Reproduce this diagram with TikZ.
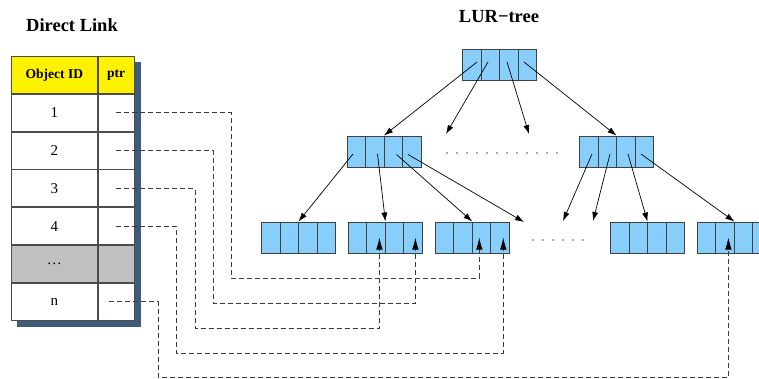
\documentclass[tikz,border=0pt]{standalone}
\usepackage{fontspec}
\setmainfont{Liberation Serif}
\usetikzlibrary{positioning,arrows.meta,backgrounds,calc}
\definecolor{nodeblue}{RGB}{135,206,250}
\definecolor{shadowblue}{RGB}{62,92,120}
\definecolor{tablegray}{RGB}{192,192,192}
\definecolor{linkgray}{RGB}{60,60,60}

\begin{document}
\begin{tikzpicture}[x=1pt, y=-1pt, node distance=0pt,
  title/.style={font=\bfseries\fontsize{18.5}{18.5}\selectfont},
  id cell/.style={draw=black!70, fill=white, line width=0.8pt, minimum width=86pt, minimum height=37pt, inner sep=0pt, font=\fontsize{15}{15}\selectfont},
  ptr cell/.style={id cell, minimum width=36pt},
  head/.style={fill=yellow, font=\bfseries\fontsize{13.5}{13.5}\selectfont},
  tree node/.style={draw=black!75, fill=nodeblue, line width=0.9pt, minimum width=74pt, minimum height=31pt, inner sep=0pt,
    path picture={
      \foreach \f in {0.25,0.5,0.75}
        \draw[black!75, line width=0.9pt] ($(path picture bounding box.north west)!\f!(path picture bounding box.north east)$)
          -- ($(path picture bounding box.south west)!\f!(path picture bounding box.south east)$);}},
  tree edge/.style={-{Latex[length=9pt,width=6pt]}, line width=0.7pt},
  link/.style={dash pattern=on 5pt off 3pt, draw=linkgray, line width=0.8pt, -{Latex[length=12pt,width=6.5pt,color=black]}},
  dots/.style={dash pattern=on 0pt off 10pt, line cap=round, line width=1.6pt, draw=black!65}]
\useasboundingbox (0,0) rectangle (759,378);

% titles
\node[title](directlink) at (72,25){Direct Link};
\node[title](lurtree) at (499,17){LUR−tree};

% direct link table
\node[id cell, head, anchor=north west](id0) at (11,56){Object ID};
\node[ptr cell, head, right=of id0](ptr0){ptr};
\node[id cell, below=of id0](id1){1};
\node[ptr cell, right=of id1](ptr1){};
\node[id cell, below=of id1](id2){2};
\node[ptr cell, right=of id2](ptr2){};
\node[id cell, below=of id2](id3){3};
\node[ptr cell, right=of id3](ptr3){};
\node[id cell, below=of id3](id4){4};
\node[ptr cell, right=of id4](ptr4){};
\node[id cell, fill=tablegray, below=of id4](id5){\ldots};
\node[ptr cell, fill=tablegray, right=of id5](ptr5){};
\node[id cell, below=of id5](idn){n};
\node[ptr cell, right=of idn](ptrn){};
\begin{scope}[on background layer]
\fill[shadowblue]([shift={(6,6)}]id0.north west) rectangle ([shift={(6,6)}]ptrn.south east);
\end{scope}

% LUR-tree
\node[tree node](root) at (499.5,64.5){};
\node[tree node](left) at (384,151.5){};
\node[tree node](right) at (616.5,151.5){};
\node[tree node](leaf1) at (298.5,237.5){};
\node[tree node, right=12pt of leaf1](leaf2){};
\node[tree node, right=12pt of leaf2](leaf3){};
\node[tree node](leaf4) at (647.5,237.5){};
\node[tree node, right=12pt of leaf4](leaf5){};

\coordinate(open1) at (446,134);
\coordinate(open2) at (529,134);
\coordinate(open3) at (524,222);
\coordinate(open4) at (563,221);
\coordinate(open5) at (593,221);

\draw[tree edge]([shift={(-22.5,-2.5)}]root.center) to (left.north);
\draw[tree edge]([shift={(-11.5,-2.5)}]root.center) to (open1);
\draw[tree edge]([shift={(7.5,-2.5)}]root.center) to (open2);
\draw[tree edge]([shift={(24.5,-2.5)}]root.center) to (right.north);
\draw[tree edge]([shift={(-31,2.5)}]left.center) to (leaf1.north);
\draw[tree edge]([shift={(-6.5,2.5)}]left.center) to (leaf2.north);
\draw[tree edge]([shift={(12.5,3)}]left.center) to (leaf3.north);
\draw[tree edge]([shift={(24,3)}]left.center) to (open3);
\draw[tree edge]([shift={(-24.5,2.5)}]right.center) to (open4);
\draw[tree edge]([shift={(-6.5,2.5)}]right.center) to (open5);
\draw[tree edge]([shift={(11.5,2.5)}]right.center) to (leaf4.north);
\draw[tree edge]([shift={(24.5,2.5)}]right.center) to (leaf5.north);

% dotted gaps
\coordinate(gap1a) at (447,153);
\coordinate(gap1b) at (562,153);
\coordinate(gap2a) at (533,240);
\coordinate(gap2b) at (586,240);
\draw[dots](gap1a) -- (gap1b);
\draw[dots](gap2a) -- (gap2b);

% links from table to leaves
\coordinate(bend1) at (231,278);
\coordinate(bend2) at (213,303);
\coordinate(bend3) at (195,328);
\coordinate(bend4) at (176,353);
\coordinate(bendn) at (158,377);
\draw[link](ptr1.center) -| (bend1) -| ([xshift=7]leaf3.center);
\draw[link](ptr2.center) -| (bend2) -| ([xshift=30]leaf2.center);
\draw[link](ptr3.center) -| (bend3) -| ([xshift=-6]leaf2.center);
\draw[link](ptr4.center) -| (bend4) -| ([xshift=31]leaf3.center);
\draw[link]([xshift=-7]ptrn.center) -| (bendn) -| ([xshift=-6]leaf5.center);
\end{tikzpicture}
\end{document}
